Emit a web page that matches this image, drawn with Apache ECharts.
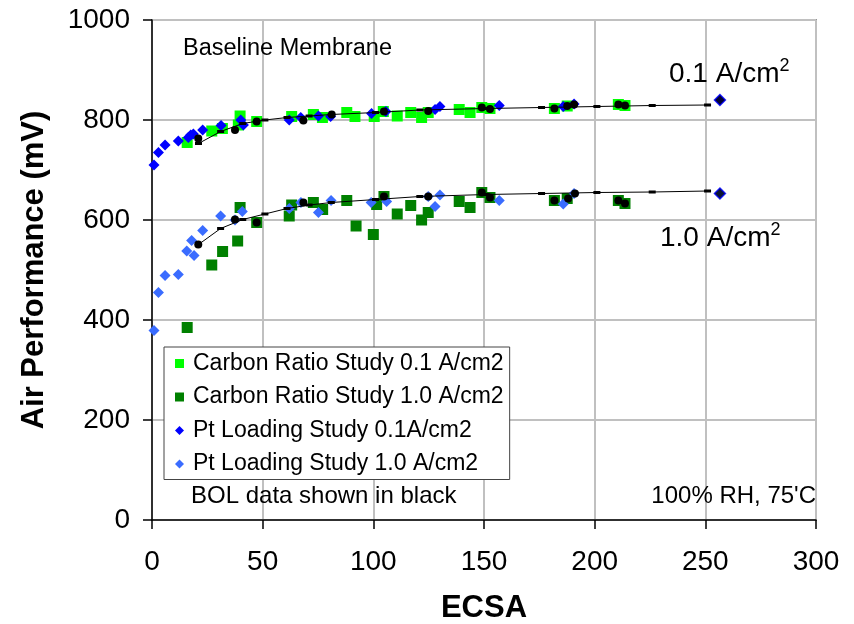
<!DOCTYPE html>
<html><head><meta charset="utf-8">
<script src="https://cdn.jsdelivr.net/npm/echarts@6/dist/echarts.min.js"></script>
<style>html,body{margin:0;padding:0;background:#fff}#c{width:854px;height:624px}</style>
</head><body><div id="c"></div>
<script>
const xTicks = [0, 50, 100, 150, 200, 250, 300];
const yTicks = [0, 200, 400, 600, 800, 1000];

const carbon01 = [[15.9,755],[27,778],[31.8,783],[39.8,808],[39,790],[47.3,797],[63.1,807],[72.9,811],[77,805],[88,815],[91.7,807],[100.4,807],[104.5,817],[110.8,808],[116.9,815],[121.8,805],[124.8,815],[138.8,821],[143.7,815],[149,825],[152.7,823],[181.8,823],[187.6,828],[210.7,831],[213.7,829]];
const carbon10 = [[15.9,385],[27,510],[31.9,537],[38.7,558],[39.8,625],[47.3,595],[62,608],[63.1,630],[72.9,635],[77.1,621],[88,639],[92.2,588],[100,571],[101.5,631],[104.8,647],[110.8,612],[116.9,629],[121.8,600],[124.8,615],[138.8,637],[143.7,625],[149,655],[152.7,645],[181.8,639],[187.6,643],[210.7,639],[213.7,633]];
const pt01 = [[0.9,710],[2.9,735],[5.9,750],[11.9,758],[16.4,765],[17.5,770],[18.7,772],[22.9,780],[31.2,789],[40.1,800],[41.3,790],[62,800],[67.2,805],[75.2,808],[80.7,807],[99.2,813],[105.7,817],[127.9,821],[130.1,827],[156.9,829],[185.8,827],[190.7,832],[256.6,840]];
const pt10 = [[0.9,379],[2.9,455],[5.9,489],[11.9,491],[15.7,538],[17.9,559],[19,529],[22.9,579],[31,608],[37.5,600],[40.8,617],[62,623],[67.3,635],[75.2,615],[80.9,639],[99,635],[106,637],[124.8,647],[127.9,627],[130.1,650],[156.9,639],[185.8,632],[190.7,653],[256.6,653]];
const bol01 = [[20.9,763],[37.5,780],[47.3,797],[68.4,799],[81.2,811],[104.8,817],[124.8,818],[149,825],[152.7,822],[181.8,823],[187.6,828],[190.7,831],[210.7,831],[213.7,829]];
const bol10 = [[20.9,551],[37.5,601],[47.3,595],[68.4,635],[104.8,647],[124.8,647],[149,655],[152.7,645],[181.8,639],[188,643],[191.1,653],[210.7,639],[213.7,633]];
const bolPtEnd = [[256.6,840],[256.6,653]];
const fit01 = [[21,753],[31,777],[41,793],[51,800],[61,805],[71,808],[81,811],[101,815],[121,820],[151,823],[176,825],[201,827],[226,829],[251,830]];
const fit10 = [[21,551],[31,583],[41,601],[51,612],[61,623],[71,630],[81,635],[101,641],[121,647],[151,651],[176,653],[201,655],[226,656],[251,658]];

const FONT = 'Liberation Sans, Arial, sans-serif';
const chart = echarts.init(document.getElementById('c'), null, {renderer: 'canvas'});

const scatter = (name, data, symbol, color, size, z) => ({
  name, type: 'scatter', data, symbol, symbolSize: size, z,
  itemStyle: {color, opacity: 1}, emphasis: {disabled: true}
});
const supLabel = (t) => ({
  text: '{a|' + t + '}{s|2}',
  rich: {a: {font: '28px ' + FONT, fill: '#000', verticalAlign: 'bottom'},
         s: {font: '18px ' + FONT, fill: '#000', verticalAlign: 'top', padding: [0, 0, 13, 0]}}
});

chart.setOption({
  animation: false,
  backgroundColor: '#fff',
  textStyle: {fontFamily: FONT},
  grid: {left: 152, top: 20, right: 38, bottom: 104, outerBoundsMode: 'none', containLabel: false,
    show: true, borderColor: '#444', borderWidth: 1.5, backgroundColor: 'transparent'},
  xAxis: {
    type: 'value', min: 0, max: 300, interval: 50,
    name: 'ECSA', nameLocation: 'middle', nameGap: 73,
    nameTextStyle: {fontFamily: FONT, fontSize: 31, fontWeight: 'bold', color: '#000'},
    axisLine: {show: true, onZero: false, lineStyle: {color: '#000', width: 1.5}},
    axisTick: {show: true, inside: false, length: 9, lineStyle: {color: '#000', width: 1.5}},
    axisLabel: {fontFamily: FONT, fontSize: 28, color: '#000', margin: 28,
      formatter: v => xTicks.includes(v) ? String(v) : ''},
    splitLine: {show: true, lineStyle: {color: '#c0c0c0', width: 2}}
  },
  yAxis: {
    type: 'value', min: 0, max: 1000, interval: 200,
    name: 'Air Performance (mV)', nameLocation: 'middle', nameGap: 102,
    nameTextStyle: {fontFamily: FONT, fontSize: 31, fontWeight: 'bold', color: '#000'},
    axisLine: {show: true, onZero: false, lineStyle: {color: '#000', width: 1.5}},
    axisTick: {show: true, inside: false, length: 9, lineStyle: {color: '#000', width: 1.5}},
    axisLabel: {fontFamily: FONT, fontSize: 28, color: '#000', margin: 22,
      formatter: v => yTicks.includes(v) ? String(v) : ''},
    splitLine: {show: true, lineStyle: {color: '#c0c0c0', width: 2}}
  },
  legend: {
    orient: 'vertical', left: 164, top: 347,
    padding: [5, 6, 4, 11], itemGap: 10.5, itemWidth: 9, itemHeight: 9,
    borderColor: '#444', borderWidth: 1, backgroundColor: '#fff',
    textStyle: {fontFamily: FONT, fontSize: 23, color: '#000', lineHeight: 22, padding: [0, 0, 0, 4]},
    data: [
      {name: 'Carbon Ratio Study 0.1 A/cm2', icon: 'rect'},
      {name: 'Carbon Ratio Study 1.0 A/cm2', icon: 'rect'},
      {name: 'Pt Loading Study 0.1A/cm2', icon: 'diamond'},
      {name: 'Pt Loading Study 1.0 A/cm2', icon: 'diamond'}
    ]
  },
  series: [
    scatter('Carbon Ratio Study 0.1 A/cm2', carbon01, 'rect', '#00ff00', 11, 2),
    scatter('Carbon Ratio Study 1.0 A/cm2', carbon10, 'rect', '#008000', 11, 2),
    scatter('Pt Loading Study 0.1A/cm2', pt01, 'diamond', '#0000ff', 11, 3),
    scatter('Pt Loading Study 1.0 A/cm2', pt10, 'diamond', '#3a6cff', 11, 3),
    {name: 'fit01', type: 'line', data: fit01, symbol: 'rect', symbolSize: [7, 3], showSymbol: true, z: 4,
      lineStyle: {color: '#000', width: 1}, itemStyle: {color: '#000'}, emphasis: {disabled: true}},
    {name: 'fit10', type: 'line', data: fit10, symbol: 'rect', symbolSize: [7, 3], showSymbol: true, z: 4,
      lineStyle: {color: '#000', width: 1}, itemStyle: {color: '#000'}, emphasis: {disabled: true}},
    scatter('bol01', bol01, 'circle', '#000', 8, 5),
    scatter('bol10', bol10, 'circle', '#000', 8, 5),
    {name: 'bolEnd', type: 'scatter', data: bolPtEnd, symbol: 'diamond', symbolSize: 11, z: 5,
      itemStyle: {color: '#000', borderColor: '#0000ff', borderWidth: 1.5}, emphasis: {disabled: true}}
  ],
  graphic: [
    {type: 'text', left: 183, top: 37, z: 10, style: {text: 'Baseline Membrane', font: '23.5px ' + FONT, fill: '#000'}},
    {type: 'text', left: 669, top: 57, z: 10, style: supLabel('0.1 A/cm')},
    {type: 'text', left: 660, top: 221, z: 10, style: supLabel('1.0 A/cm')},
    {type: 'text', left: 191, top: 484, z: 10, style: {text: 'BOL data shown in black', font: '24px ' + FONT, fill: '#000'}},
    {type: 'text', right: 38, top: 484, z: 10, style: {text: "100% RH, 75'C", font: '24px ' + FONT, fill: '#000'}}
  ]
});
</script></body></html>
